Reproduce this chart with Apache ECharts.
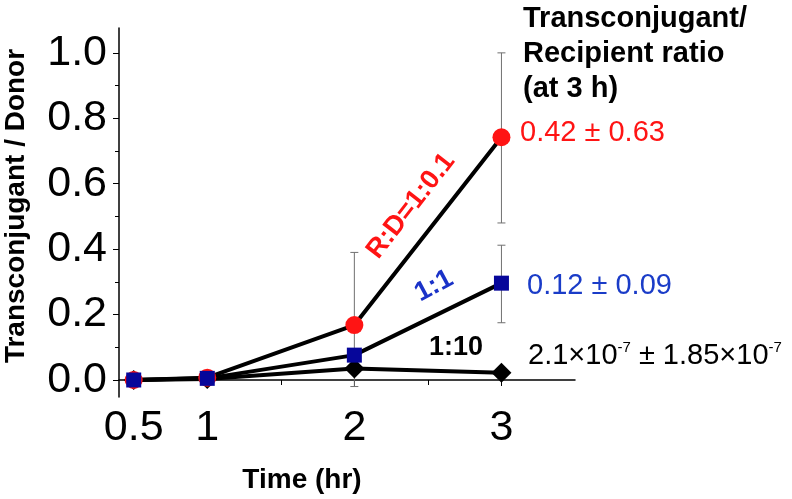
<!DOCTYPE html>
<html>
<head>
<meta charset="utf-8">
<script src="https://cdn.jsdelivr.net/npm/echarts@6/dist/echarts.min.js"></script>
<style>
html,body{margin:0;padding:0;background:#fff;}
#c{width:792px;height:499px;}
</style>
</head>
<body>
<div id="c"></div>
<script>
// ---- data ----
var times = [0.5, 1, 2, 3];
var redValues = [0, 0.007, 0.168, 0.742];     // R:D = 1:0.1
var blueValues = [0, 0.005, 0.076, 0.296];    // 1:1
var blackValues = [0, 0.003, 0.035, 0.022];   // 1:10
// error bars: [time, low, high]
var redErr = [[2, -0.02, 0.39], [3, 0.48, 1.0]];
var blueErr = [[3, 0.175, 0.412]];
var xTickLabels = [0.5, 1, 2, 3];
var xMinorTicks = [1.5, 2.5];
var yTickLabels = [0, 0.2, 0.4, 0.6, 0.8, 1.0];
var yMinorTicks = [0.1, 0.3, 0.5, 0.7, 0.9];

function pairs(xs, ys){ return xs.map(function(x,i){ return [x, ys[i]]; }); }

var FONT = 'Liberation Sans, Arial, sans-serif';
var chart = echarts.init(document.getElementById('c'), null, {renderer:'canvas'});

function errItem(params, api){
  var x = api.value(0), lo = api.value(1), hi = api.value(2);
  var pl = api.coord([x, lo]), ph = api.coord([x, hi]);
  var cw = 4;
  var st = {stroke:'#707070', lineWidth:1};
  return {type:'group', children:[
    {type:'line', shape:{x1:pl[0],y1:pl[1],x2:ph[0],y2:ph[1]}, style:st},
    {type:'line', shape:{x1:pl[0]-cw,y1:pl[1],x2:pl[0]+cw,y2:pl[1]}, style:st},
    {type:'line', shape:{x1:ph[0]-cw,y1:ph[1],x2:ph[0]+cw,y2:ph[1]}, style:st}
  ]};
}

var axisLine = {show:true, lineStyle:{color:'#000', width:1.5}};
var option = {
  animation:false,
  backgroundColor:'#fff',
  grid:{left:119, right:217, top:28, bottom:102, containLabel:false},
  xAxis:[
    {type:'value', min:0.4, max:3.5, position:'bottom',
     axisLine:axisLine, splitLine:{show:false},
     axisTick:{show:true, customValues:xTickLabels, length:6, lineStyle:{color:'#000', width:1}},
     axisLabel:{customValues:xTickLabels, fontSize:43, color:'#000', fontFamily:FONT, margin:10,
       formatter:function(v){ return String(v); }}},
    {type:'value', min:0.4, max:3.5, position:'bottom', offset:0,
     axisLine:{show:false}, splitLine:{show:false},
     axisTick:{show:true, customValues:xMinorTicks, length:5, lineStyle:{color:'#000', width:1}},
     axisLabel:{show:false}}
  ],
  yAxis:[
    {type:'value', min:-0.052, max:1.076, position:'left',
     axisLine:axisLine, splitLine:{show:false},
     axisTick:{show:true, customValues:yTickLabels, length:6, lineStyle:{color:'#000', width:1}},
     axisLabel:{customValues:yTickLabels, fontSize:43, color:'#000', fontFamily:FONT, margin:12,
       formatter:function(v){ return v.toFixed(1); }}},
    {type:'value', min:-0.052, max:1.076, position:'left', offset:0,
     axisLine:{show:false}, splitLine:{show:false},
     axisTick:{show:true, customValues:yMinorTicks, length:4, lineStyle:{color:'#000', width:1}},
     axisLabel:{show:false}}
  ],
  series:[
    {type:'custom', name:'redErr', data:redErr, renderItem:errItem, z:1, xAxisIndex:0, yAxisIndex:0},
    {type:'custom', name:'blueErr', data:blueErr, renderItem:errItem, z:1, xAxisIndex:0, yAxisIndex:0},
    {type:'line', data:pairs(times, blackValues), symbol:'none', lineStyle:{color:'#000', width:4}, z:2},
    {type:'line', data:pairs(times, redValues), symbol:'none', lineStyle:{color:'#000', width:4}, z:2},
    {type:'line', data:pairs(times, blueValues), symbol:'none', lineStyle:{color:'#000', width:4}, z:2},
    {type:'scatter', data:pairs(times, blackValues), symbol:'diamond', symbolSize:20, itemStyle:{color:'#000', opacity:1}, z:3},
    {type:'scatter', data:pairs(times, redValues), symbol:'circle', symbolSize:18, itemStyle:{color:'#ff1414', opacity:1}, z:4},
    {type:'scatter', data:pairs(times, blueValues), symbol:'rect', symbolSize:15, itemStyle:{color:'#06069a', opacity:1}, z:5}
  ],
  graphic:[
    {type:'text', x:16, y:206, rotation:Math.PI/2,
     style:{text:'Transconjugant / Donor', font:'bold 28px '+FONT, fill:'#000', align:'center', verticalAlign:'middle'}},
    {type:'text', x:302, y:480,
     style:{text:'Time (hr)', font:'bold 28px '+FONT, fill:'#000', align:'center', verticalAlign:'middle'}},
    {type:'text', x:523, y:1,
     style:{text:'Transconjugant/\nRecipient ratio\n(at 3 h)', font:'bold 29px '+FONT, lineHeight:35, fill:'#000', align:'left', verticalAlign:'top'}},
    {type:'text', x:411, y:206, rotation:52*Math.PI/180,
     style:{text:'R:D=1:0.1', font:'bold 27px '+FONT, fill:'#ff1414', align:'center', verticalAlign:'middle'}},
    {type:'text', x:434, y:286, rotation:28*Math.PI/180,
     style:{text:'1:1', font:'bold 27px '+FONT, fill:'#1a32c8', align:'center', verticalAlign:'middle'}},
    {type:'text', x:456, y:348,
     style:{text:'1:10', font:'bold 27px '+FONT, fill:'#000', align:'center', verticalAlign:'middle'}},
    {type:'text', x:520, y:133,
     style:{text:'0.42 ± 0.63', font:'29px '+FONT, fill:'#ff1414', align:'left', verticalAlign:'middle'}},
    {type:'text', x:527, y:286,
     style:{text:'0.12 ± 0.09', font:'29px '+FONT, fill:'#1a3cc8', align:'left', verticalAlign:'middle'}},
    {type:'text', x:528, y:355,
     style:{text:'{a|2.1×10}{s|-7}{a| ± 1.85×10}{s|-7}', align:'left', verticalAlign:'middle',
       rich:{a:{fontSize:29, fontFamily:FONT, fill:'#000', color:'#000', lineHeight:30, verticalAlign:'bottom'},
             s:{fontSize:15, fontFamily:FONT, fill:'#000', color:'#000', lineHeight:30, verticalAlign:'top'}}}}
  ]
};
chart.setOption(option);
</script>
</body>
</html>
